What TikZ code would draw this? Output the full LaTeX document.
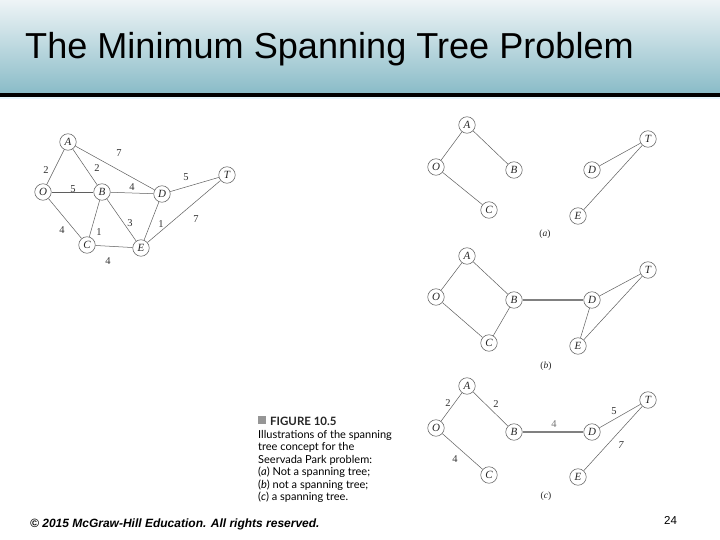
\documentclass[tikz,border=0pt]{standalone}
\usepackage{fontspec}
\newfontfamily\arialfont{Liberation Sans}
\newfontfamily\timesfont{Liberation Serif}
\newfontfamily\capfont{Lato}
\definecolor{hdrtop}{RGB}{238,244,246}
\definecolor{hdrbot}{RGB}{138,188,200}
\definecolor{edgegray}{RGB}{95,95,95}
\definecolor{sqgray}{RGB}{150,150,150}
\begin{document}
\begin{tikzpicture}[x=1pt,y=1pt,
  vtx/.style={circle,draw=edgegray,line width=0.55pt,minimum size=16.5pt,inner sep=0pt,
    font=\timesfont\itshape\fontsize{11}{11}\selectfont,text=black!85},
  edg/.style={draw=edgegray,line width=0.5pt},
  bold edge/.style={draw=black!50,line width=1.5pt},
  wt/.style={font=\timesfont\fontsize{10.5}{10.5}\selectfont,text=black!80,inner sep=0pt},
  sublbl/.style={font=\timesfont\fontsize{9.5}{9.5}\selectfont,text=black!85,inner sep=0pt},
  capline/.style={anchor=base west,font=\capfont\fontsize{11}{11}\selectfont,inner sep=0pt}]
\useasboundingbox (0,0) rectangle (720,-540);
\fill[white] (0,0) rectangle (720,-540);
% header
\shade[top color=hdrtop,bottom color=hdrbot] (0,0) rectangle (720,-93);
\fill[black] (0,-93) rectangle (720,-97);
\fill[cyan!10] (0,-97) rectangle (720,-99);
\node[anchor=base west,inner sep=0pt,font=\arialfont\fontsize{36.1}{36}\selectfont] (title) at (25,-59) {The Minimum Spanning Tree Problem};

% left network
\node[vtx] (LA) at (68,-142) {A};
\node[vtx] (LO) at (43,-192) {O};
\node[vtx] (LB) at (102,-192) {B};
\node[vtx] (LD) at (162,-194) {D};
\node[vtx] (LT) at (227,-175) {T};
\node[vtx] (LC) at (87,-245) {C};
\node[vtx] (LE) at (141,-248) {E};
\draw[edg] (LA) -- (LO);
\draw[edg] (LA) -- (LB);
\draw[edg] (LA) -- (LD);
\draw[edg] (LO) -- (LB);
\draw[edg] (LB) -- (LD);
\draw[edg] (LD) -- (LT);
\draw[edg] (LO) -- (LC);
\draw[edg] (LB) -- (LC);
\draw[edg] (LB) -- (LE);
\draw[edg] (LD) -- (LE);
\draw[edg] (LE) -- (LT);
\draw[edg] (LC) -- (LE);
\node[wt] (w1) at (46,-170) {2};
\node[wt] (w2) at (97,-168) {2};
\node[wt] (w3) at (119,-153) {7};
\node[wt] (w4) at (73,-189) {5};
\node[wt] (w5) at (132,-187) {4};
\node[wt] (w6) at (186,-177) {5};
\node[wt] (w7) at (62,-230) {4};
\node[wt] (w8) at (99,-232) {1};
\node[wt] (w9) at (130,-223) {3};
\node[wt] (w10) at (161,-224) {1};
\node[wt] (w11) at (196,-219) {7};
\node[wt] (w12) at (108,-261) {4};

% (a)
\node[vtx] (aA) at (467,-125) {A};
\node[vtx] (aO) at (436,-167) {O};
\node[vtx] (aB) at (514,-170) {B};
\node[vtx] (aC) at (489,-210) {C};
\node[vtx] (aD) at (592,-170) {D};
\node[vtx] (aT) at (648,-139) {T};
\node[vtx] (aE) at (578,-216) {E};
\draw[edg] (aA) -- (aO);
\draw[edg] (aA) -- (aB);
\draw[edg] (aO) -- (aC);
\draw[edg] (aD) -- (aT);
\draw[edg] (aE) -- (aT);
\node[sublbl] (la) at (545,-234) {(\textit{a})};

% (b)
\node[vtx] (bA) at (467,-256) {A};
\node[vtx] (bO) at (436,-297) {O};
\node[vtx] (bB) at (514,-300) {B};
\node[vtx] (bC) at (489,-343) {C};
\node[vtx] (bD) at (592,-300) {D};
\node[vtx] (bT) at (648,-270) {T};
\node[vtx] (bE) at (578,-346) {E};
\draw[edg] (bA) -- (bO);
\draw[edg] (bA) -- (bB);
\draw[edg] (bO) -- (bC);
\draw[edg] (bB) -- (bC);
\draw[bold edge] (bB) -- (bD);
\draw[edg] (bD) -- (bT);
\draw[edg] (bD) -- (bE);
\draw[edg] (bE) -- (bT);
\node[sublbl] (lb) at (546,-366) {(\textit{b})};

% (c)
\node[vtx] (cA) at (467,-386) {A};
\node[vtx] (cO) at (436,-428) {O};
\node[vtx] (cB) at (514,-432) {B};
\node[vtx] (cC) at (489,-475) {C};
\node[vtx] (cD) at (592,-432) {D};
\node[vtx] (cT) at (648,-400) {T};
\node[vtx] (cE) at (578,-477) {E};
\draw[edg] (cA) -- (cO);
\draw[edg] (cA) -- (cB);
\draw[edg] (cO) -- (cC);
\draw[bold edge] (cB) -- (cD);
\draw[edg] (cD) -- (cT);
\draw[edg] (cE) -- (cT);
\node[wt] (c1) at (448,-403) {2};
\node[wt] (c2) at (496,-404) {2};
\node[wt,text=black!55] (c3) at (554,-424) {4};
\node[wt] (c4) at (614,-411) {5};
\node[wt,font=\timesfont\itshape\fontsize{10.5}{10.5}\selectfont] (c5) at (621,-445) {7};
\node[wt] (c6) at (455,-459) {4};
\node[sublbl] (lc) at (546,-496) {(\textit{c})};

% caption
\fill[sqgray] (258,-416) rectangle (266,-424);
\node[capline,font=\capfont\bfseries\fontsize{11.5}{11.5}\selectfont,text=black!85] (cap0) at (270,-425) {FIGURE 10.5};
\node[capline] (cap1) at (258,-438) {Illustrations of the spanning};
\node[capline] (cap2) at (258,-450.5) {tree concept for the};
\node[capline] (cap3) at (258,-463) {Seervada Park problem:};
\node[capline] (cap4) at (258,-475.5) {(\textit{a}) Not a spanning tree;};
\node[capline] (cap5) at (258,-488) {(\textit{b}) not a spanning tree;};
\node[capline] (cap6) at (258,-500.5) {(\textit{c}) a spanning tree.};

% footer
\node[anchor=base west,inner sep=0pt,font=\arialfont\bfseries\itshape\fontsize{12}{12}\selectfont] (foot) at (30,-527) {\textcopyright\ 2015 McGraw-Hill Education. All rights reserved.};
\node[anchor=base west,inner sep=0pt,font=\arialfont\fontsize{11.5}{12}\selectfont] (pg) at (664,-524) {24};
\end{tikzpicture}
\end{document}
